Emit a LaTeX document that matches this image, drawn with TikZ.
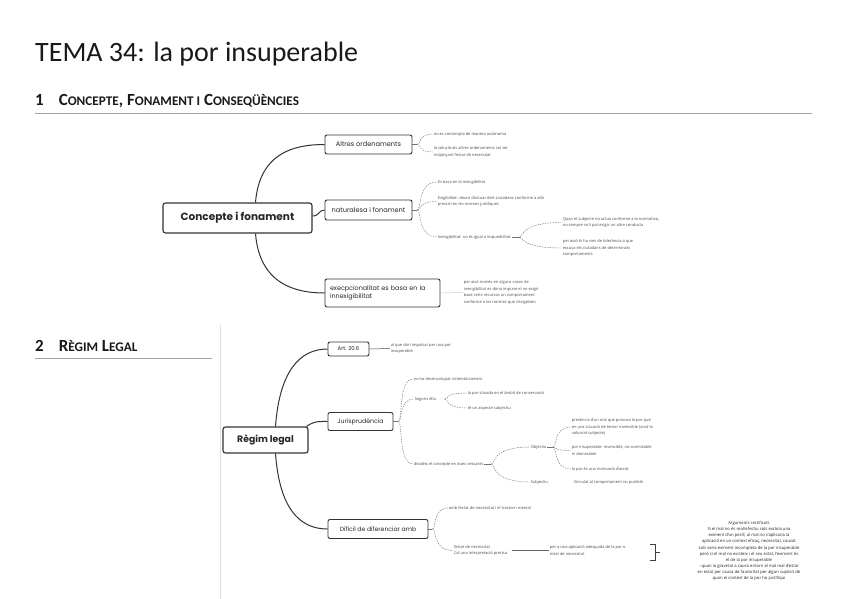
\documentclass[tikz,border=0pt]{standalone}
\usepackage{fontspec}
\setmainfont{Open Sans}
\newfontfamily\calfont{Carlito}
\newfontfamily\popfont{Poppins}
\usetikzlibrary{calc}
\newcommand\Smc[1]{{\fontsize{13.2}{14}\selectfont #1}}
\newcommand\leafedge[2]{\draw[dline] (#1) .. controls ($(#1)+(4,0)$) and (#1|-#2.west) .. (#2.west);}
\begin{document}
\begin{tikzpicture}[x=1pt,y=-1pt,
  mainbox/.style={draw=black!80, line width=1.1pt, rounded corners=2.5pt, fill=white, font=\popfont\bfseries\fontsize{10.5}{12}\selectfont, inner sep=0pt, text=black!85},
  subbox/.style={draw=black!80, line width=0.9pt, rounded corners=2pt, fill=white, font=\popfont\fontsize{6.6}{8}\selectfont, inner sep=0pt, text=black!85},
  leaf/.style={anchor=west, inner sep=0.6pt, font=\fontsize{4}{6.6}\selectfont, text=black!70, align=left},
  branch/.style={draw=black!80, line width=1pt},
  dline/.style={draw=black!55, line width=0.45pt, dash pattern=on 1.4pt off 1.1pt},
  sline/.style={draw=black!55, line width=0.45pt},
  headfont/.style={font=\calfont\bfseries\fontsize{17}{19}\selectfont},
]
\useasboundingbox[fill=white] (0,0) rectangle (848,599);

% headings
\node[anchor=base west, inner sep=0, font=\calfont\fontsize{28}{32}\selectfont, text=black!90] (title) at (35,62) {TEMA 34: la por insuperable};
\node[anchor=base west, inner sep=0, headfont, text=black!90] (h1) at (35,106) {1\hspace{15pt}C\Smc{ONCEPTE}, F\Smc{ONAMENT I} C\Smc{ONSEQÜÈNCIES}};
\draw[black!35, line width=0.8pt] (35,113) -- (812,113);
\node[anchor=base west, inner sep=0, headfont, text=black!90] (h2) at (35,351) {2\hspace{15pt}R\Smc{ÈGIM} L\Smc{EGAL}};
\draw[black!35, line width=0.8pt] (35,358) -- (212,358);
\draw[black!12, line width=0.6pt] (220,325) -- (220,599);

% ---------- map 1
\node[mainbox, minimum width=149pt, minimum height=30pt] (ca) at (237.5,218) {Concepte i fonament};
\node[subbox, minimum width=87pt, minimum height=19pt] (ao) at (368.5,144.5) {Altres ordenaments};
\node[subbox, minimum width=87pt, minimum height=20pt] (nf) at (368.5,210) {naturalesa i fonament};
\node[subbox, minimum width=115pt, minimum height=28pt, font=\popfont\fontsize{6.4}{8.2}\selectfont, align=left, text width=105pt] (ex) at (382.5,293) {execpcionalitat es basa en la\\innexigibilitat};

\draw[branch] ($(ca.north)+(18,0)$) .. controls ($(ca.north)+(22,-50)$) and ($(ao.west)+(-30,0)$) .. (ao.west);
\draw[branch] ($(ca.east)+(0,-2)$) .. controls ($(ca.east)+(7,-2)$) and ($(nf.west)+(-6,0)$) .. (nf.west);
\draw[branch] ($(ca.south)+(18,0)$) .. controls ($(ca.south)+(22,50)$) and ($(ex.west)+(-30,0)$) .. (ex.west);

\node[leaf] (c1) at (433,134) {no es contempla de manera autònoma};
\node[leaf] (c2) at (433,152) {la solució als altres ordenaments sol ser\\mitjançant l'estat de necessitat};
\coordinate (jao) at ($(ao.east)+(5,0)$);
\draw[sline] (ao.east) -- (jao);
\leafedge{jao}{c1}
\leafedge{jao}{c2}

\node[leaf] (n1) at (437,182) {Es basa en la inexigibilitat};
\node[leaf] (n2) at (437,201.5) {Exigibilitat: deure d'actuar dels ciutadans conforme a allò\\prescrit en les normes jurídiques};
\node[leaf] (n3) at (437,237) {Inexigibilitat: no és igual a impunibilitat};
\coordinate (jnf) at ($(nf.east)+(5,0)$);
\draw[sline] (nf.east) -- (jnf);
\leafedge{jnf}{n1}
\leafedge{jnf}{n2}
\leafedge{jnf}{n3}

\node[leaf] (m1) at (562,222.5) {Quan el subjecte no actua conforme a la normativa,\\no sempre se li pot exigir un altre conducta};
\node[leaf] (m2) at (562,248) {per això hi ha vies de tolerància a que\\excusa els ciutadans de determinats\\comportaments};
\coordinate (jn3) at ($(n3.east)+(8,0)$);
\draw[sline, line width=0.6pt] (n3.east) -- (jn3);
\leafedge{jn3}{m1}
\leafedge{jn3}{m2}

\node[leaf] (x1) at (463,292.5) {per això només en alguns casos de\\inexigibilitat es dóna impune el no exigir\\base certs recursos un comportament\\conforme a les normes que s'exigeixen};
\draw[black!20, line width=0.5pt] (ex.east) -- (x1.west);

% ---------- map 2
\node[mainbox, minimum width=85pt, minimum height=26pt, font=\popfont\bfseries\fontsize{9.3}{11}\selectfont] (rl) at (265.5,440) {Règim legal};
\node[subbox, minimum width=41pt, minimum height=14pt, font=\popfont\fontsize{5.4}{7}\selectfont] (art) at (348.5,349) {Art. 20.6};
\node[subbox, minimum width=65pt, minimum height=18pt, font=\popfont\fontsize{6.2}{8}\selectfont] (jur) at (360.5,421.5) {Jurisprudència};
\node[subbox, minimum width=100pt, minimum height=19pt, font=\popfont\fontsize{6.1}{8}\selectfont] (dif) at (378,529) {Difícil de diferenciar amb};

\draw[branch] ($(rl.north)+(10,0)$) .. controls ($(rl.north)+(14,-55)$) and ($(art.west)+(-28,0)$) .. (art.west);
\draw[branch] ($(rl.north east)+(-2,0)$) .. controls ($(rl.north east)+(6,-6)$) and ($(jur.west)+(-6,0)$) .. (jur.west);
\draw[branch] ($(rl.south)+(10,0)$) .. controls ($(rl.south)+(14,55)$) and ($(dif.west)+(-28,0)$) .. (dif.west);

\node[leaf] (a1) at (390,348.5) {al que obri impulsat per una por\\insuperable};
\draw[black!70, line width=0.5pt] (art.east) -- (a1.west);

\node[leaf] (j1) at (413,379) {no ha desenvolupat sistemàticament};
\node[leaf] (j2) at (414,399) {Segons ella};
\node[leaf] (j3) at (413,464) {divideix el concepte en dues vessants};
\coordinate (jju) at ($(jur.east)+(5,0)$);
\draw[sline] (jur.east) -- (jju);
\leafedge{jju}{j1}
\leafedge{jju}{j2}
\leafedge{jju}{j3}

\node[leaf] (s1) at (467,393) {la por situada en el àmbit de conservació};
\node[leaf] (s2) at (467,408) {té un aspecte subjectiu};
\coordinate (jj2) at ($(j2.east)+(8,0)$);
\leafedge{jj2}{s1}
\leafedge{jj2}{s2}

\node[leaf] (ob) at (530,447) {Objectiu};
\node[leaf] (sb) at (530,482) {Subjectiu};
\coordinate (jj3) at ($(j3.east)+(7,0)$);
\draw[sline] (j3.east) -- (jj3);
\leafedge{jj3}{ob}
\leafedge{jj3}{sb}

\node[leaf] (o1) at (571,427) {presència d'un mal que provoca la por que\\en una situació de temor invencible (anul·la\\voluntat subjecte)};
\node[leaf] (o2) at (571,450.5) {por insuperable: invencible, no controlable\\ni dominable};
\node[leaf] (o3) at (571,469) {la por és una motivació d'acció};
\coordinate (job) at ($(ob.east)+(6,0)$);
\draw[sline, line width=0.6pt] (ob.east) -- (job);
\leafedge{job}{o1}
\leafedge{job}{o2}
\leafedge{job}{o3}

\node[leaf] (sv) at (573,482) {Vinculat al comportament no punible};

\node[leaf] (d1) at (448,508) {amb l'estat de necessitat i el trastorn mental};
\node[leaf] (d2) at (453,550.5) {l'estat de necessitat\\Cal una interpretació precisa};
\coordinate (jdi) at ($(dif.east)+(4,0)$);
\draw[sline] (dif.east) -- (jdi);
\leafedge{jdi}{d1}
\leafedge{jdi}{d2}

\node[leaf] (e1) at (549,550.5) {per a una aplicació adequada de la por o\\estat de necessitat};
\draw[black!60, line width=0.5pt] ($(d2.east)+(4,0)$) -- (e1.west);

\node[inner sep=0, font=\fontsize{4.2}{6.15}\selectfont, align=center, text=black!85] (rb) at (749,551) {Arguments rectificats\\Si el mal no és real/efectiu sols excloïa una\\eximent d'un perill, al mal no s'aplicaria la\\aplicació en un context eficaç, necessitat, causat\\sols seria eximent incompleta de la por insuperable\\però si el mal no existeix i el seu estat, l'eximent és\\el de la por insuperable\\- quan la gravetat a causa entorn el mal real d'estar\\en estat per causa de l'autoritat per algun supòsit de\\quan el context de la por ho justifiqui};
\draw[black!75, line width=0.6pt] (650,544) -- (655,544) -- (655,560) -- (650,560);
\draw[black!75, line width=0.6pt] (655,552) -- (660,552);
\end{tikzpicture}
\end{document}
